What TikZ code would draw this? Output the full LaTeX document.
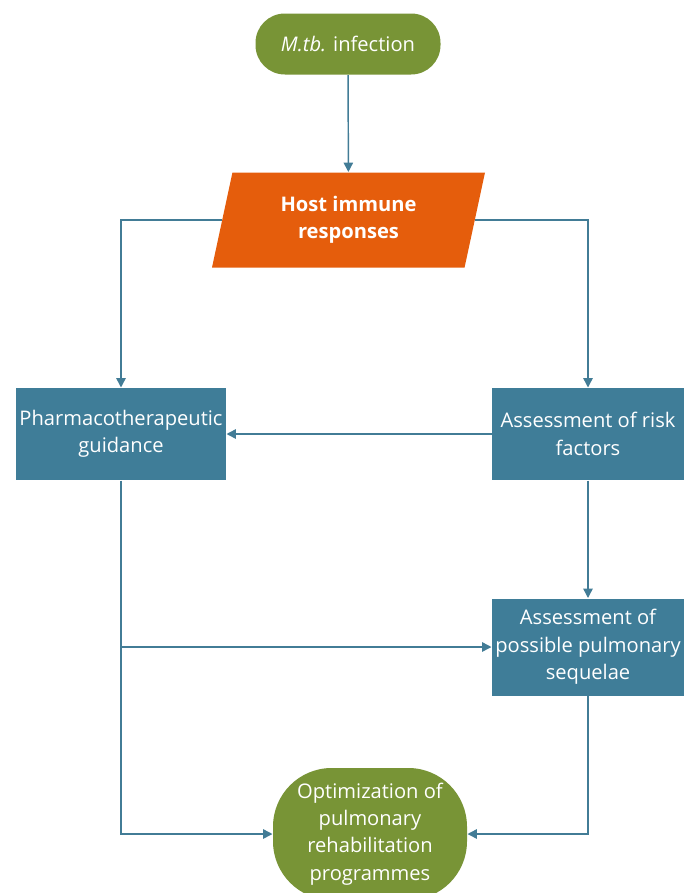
\documentclass[tikz,border=0pt]{standalone}
\usepackage{fontspec}
\setmainfont{Open Sans}
\usetikzlibrary{shapes.geometric,arrows.meta}

\definecolor{mtbgreen}{RGB}{120,148,54}
\definecolor{hostorange}{RGB}{229,93,12}
\definecolor{boxteal}{RGB}{63,125,152}
\definecolor{lineteal}{RGB}{66,124,150}

\tikzset{every picture/.style={line width=0.75pt}}
\tikzset{
  txt/.style={text=white,font=\fontsize{15.1}{20.5}\selectfont,align=center,inner sep=0pt},
  pill/.style={txt,fill=mtbgreen,rounded corners=22pt,minimum width=138.75pt,minimum height=45.75pt},
  hostshape/.style={txt,fill=hostorange,trapezium,trapezium left angle=66.7,trapezium right angle=113.3,
    trapezium stretches body,minimum width=204.75pt,minimum height=71.25pt,font=\fontsize{15.1}{20.5}\selectfont\bfseries},
  tealbox/.style={txt,fill=boxteal,minimum height=69pt},
  oval/.style={txt,fill=mtbgreen,rounded corners=44pt,minimum width=145.5pt,minimum height=99pt},
  conn/.style={draw=lineteal,line width=1.1pt,-{Triangle[length=7pt,width=7pt]}}
}

\begin{document}
\begin{tikzpicture}[x=0.75pt,y=0.75pt,yscale=-1,xscale=1]
%set diagram size: 683 x 893
\path[use as bounding box] (0,0) rectangle (683,893);

% Text Node
\node [pill] (infect) at (348,44) {\textit{M.tb.} infection};
% Text Node
\node [hostshape] (host) at (348.5,220) {Host immune\\responses};
% Text Node
\node [tealbox,minimum width=157.5pt] (pharma) at (121,434) {Pharmacotherapeutic\\guidance};
% Text Node
\node [tealbox,minimum width=144pt] (riskf) at (588,434) {Assessment of risk\\factors};
% Text Node
\node [tealbox,minimum width=144pt,minimum height=72.75pt] (sequel) at (588,647) {Assessment of\\possible pulmonary\\sequelae};
% Text Node
\node [oval] (optim) at (370,834) {Optimization of\\pulmonary\\rehabilitation\\programmes};

%Straight Lines
\draw [conn] (infect) -- (host);
\draw [conn] (host.west) -| (pharma.north);
\draw [conn] (host.east) -| (riskf.north);
\draw [conn] (riskf.west) -- (pharma.east);
\draw [conn] (riskf.south) -- (sequel.north);
\draw [conn] (pharma.south |- sequel.west) -- (sequel.west);
\draw [conn] (pharma.south) |- (optim.west);
\draw [conn] (sequel.south) |- (optim.east);

\end{tikzpicture}
\end{document}
